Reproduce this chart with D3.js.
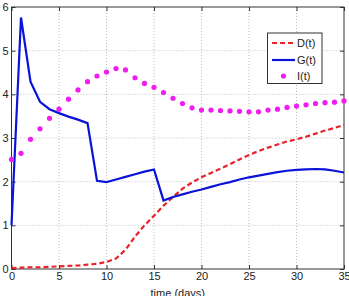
<!DOCTYPE html>
<html lang="en">
<head>
<meta charset="UTF-8">
<title>D G I over time</title>
<script src="https://cdn.jsdelivr.net/npm/d3@7"></script>
<style>
  body { margin: 0; background: #fff; }
  svg { display: block; font-family: "Liberation Sans", Arial, sans-serif; }
</style>
</head>
<body>
<script>
// values, one per day
const days = d3.range(0, 36);
const dVals = [0.02, 0.03, 0.04, 0.04, 0.05, 0.06, 0.07, 0.08, 0.10, 0.12,
  0.16, 0.24, 0.44, 0.74, 1.00, 1.22, 1.45, 1.65, 1.84, 1.98,
  2.10, 2.20, 2.30, 2.40, 2.51, 2.61, 2.70, 2.78, 2.85, 2.92,
  2.97, 3.03, 3.10, 3.17, 3.23, 3.30];
const gVals = [1.00, 5.76, 4.29, 3.83, 3.66, 3.57, 3.49, 3.42, 3.34, 2.02,
  1.99, 2.05, 2.11, 2.17, 2.23, 2.28, 1.57, 1.65, 1.71, 1.77,
  1.82, 1.88, 1.94, 1.99, 2.05, 2.10, 2.14, 2.18, 2.22, 2.25,
  2.27, 2.28, 2.29, 2.28, 2.25, 2.21];
const iVals = [2.51, 2.65, 2.97, 3.21, 3.45, 3.66, 3.89, 4.10, 4.29, 4.42,
  4.51, 4.59, 4.56, 4.38, 4.25, 4.16, 4.04, 3.91, 3.79, 3.69,
  3.64, 3.64, 3.63, 3.62, 3.61, 3.60, 3.60, 3.64, 3.66, 3.70,
  3.73, 3.76, 3.79, 3.81, 3.82, 3.85];
const xTicks = [0, 5, 10, 15, 20, 25, 30, 35];
const yTicks = [0, 1, 2, 3, 4, 5, 6];
const legendNames = ["D(t)", "G(t)", "I(t)"];

const width = 349, height = 296;
const margin = { top: 7, right: 5, bottom: 27, left: 11.5 };

const svg = d3.select("body").append("svg")
  .attr("width", width)
  .attr("height", height);

const x = d3.scaleLinear().domain([0, 35]).range([margin.left, width - margin.right]);
const y = d3.scaleLinear().domain([0, 6]).range([height - margin.bottom, margin.top]);
const fmt = d3.format("d");

// dotted grid
const grid = svg.append("g")
  .attr("stroke", "#bdbdbd")
  .attr("stroke-width", 1)
  .attr("stroke-dasharray", "1,2");
grid.selectAll(".gx").data(xTicks.slice(1, -1)).join("line")
  .attr("x1", d => x(d)).attr("x2", d => x(d))
  .attr("y1", y(0)).attr("y2", y(6));
grid.selectAll(".gy").data(yTicks.slice(1, -1)).join("line")
  .attr("x1", x(0)).attr("x2", x(35))
  .attr("y1", d => y(d)).attr("y2", d => y(d));

// axes with inward ticks
const axisColor = "#333";
function styleAxis(g) {
  g.select(".domain").remove();
  g.selectAll(".tick line").attr("stroke", axisColor);
  g.selectAll(".tick text").attr("fill", "#222").style("font-size", "11px");
}
svg.append("g")
  .attr("transform", `translate(0,${y(0)})`)
  .call(d3.axisBottom(x).tickValues(xTicks).tickFormat(fmt).tickSize(-4).tickPadding(3))
  .call(styleAxis);
svg.append("g")
  .attr("transform", `translate(0,${y(6)})`)
  .call(d3.axisTop(x).tickValues(xTicks).tickSize(-4).tickFormat(""))
  .call(styleAxis);
svg.append("g")
  .attr("transform", `translate(${x(0)},0)`)
  .call(d3.axisLeft(y).tickValues(yTicks).tickFormat(fmt).tickSize(-4).tickPadding(3))
  .call(styleAxis);
svg.append("g")
  .attr("transform", `translate(${x(35)},0)`)
  .call(d3.axisRight(y).tickValues(yTicks).tickSize(-4).tickFormat(""))
  .call(styleAxis);

svg.append("rect")
  .attr("x", x(0)).attr("y", y(6))
  .attr("width", x(35) - x(0)).attr("height", y(0) - y(6))
  .attr("fill", "none").attr("stroke", axisColor).attr("stroke-width", 1);

svg.append("text")
  .attr("x", (x(0) + x(35)) / 2)
  .attr("y", height + 1)
  .attr("text-anchor", "middle")
  .attr("fill", "#222")
  .style("font-size", "11px")
  .text("time (days)");

// series
const line = d3.line().x((d, i) => x(days[i])).y(d => y(d));
svg.append("path").datum(dVals)
  .attr("d", line)
  .attr("fill", "none")
  .attr("stroke", "#e8212a")
  .attr("stroke-width", 2.2)
  .attr("stroke-dasharray", "5,3");
svg.append("path").datum(gVals)
  .attr("d", line)
  .attr("fill", "none")
  .attr("stroke", "#0a14d8")
  .attr("stroke-width", 2.2)
  .attr("stroke-linejoin", "miter");
svg.append("g").selectAll("circle").data(iVals).join("circle")
  .attr("cx", (d, i) => x(days[i]))
  .attr("cy", d => y(d))
  .attr("r", 2.6)
  .attr("fill", "#f01cf0");

// legend
const lg = svg.append("g");
lg.append("rect")
  .attr("x", 267.5).attr("y", 33)
  .attr("width", 54.5).attr("height", 50.5)
  .attr("fill", "#fff").attr("stroke", "#333").attr("stroke-width", 1);
const rowY = [43, 60, 76];
legendNames.forEach((name, i) => {
  const yy = rowY[i];
  if (i === 0) {
    lg.append("line").attr("x1", 272).attr("x2", 295).attr("y1", yy).attr("y2", yy)
      .attr("stroke", "#e8212a").attr("stroke-width", 2.2).attr("stroke-dasharray", "5,3");
  } else if (i === 1) {
    lg.append("line").attr("x1", 272).attr("x2", 295).attr("y1", yy).attr("y2", yy)
      .attr("stroke", "#0a14d8").attr("stroke-width", 2.2);
  } else {
    lg.append("circle").attr("cx", 283.5).attr("cy", yy).attr("r", 2.6).attr("fill", "#f01cf0");
  }
  lg.append("text")
    .attr("x", 297).attr("y", yy)
    .attr("dy", "0.35em")
    .attr("fill", "#222")
    .style("font-size", "11px")
    .text(name);
});
</script>
</body>
</html>
